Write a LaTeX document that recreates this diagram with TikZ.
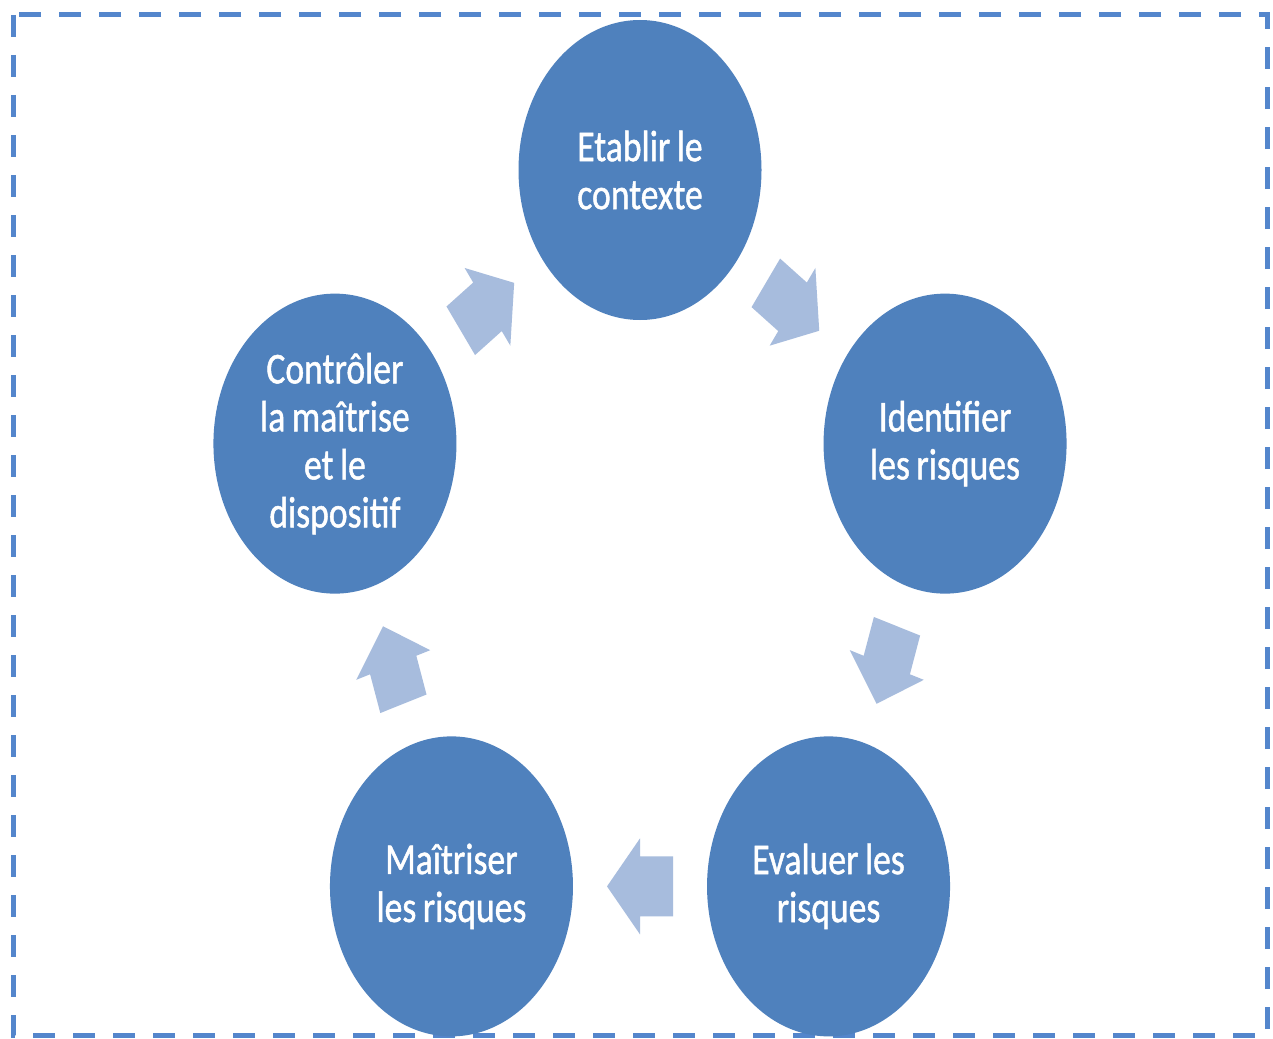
\documentclass[tikz,border=0pt]{standalone}
\usepackage{fontspec}
\setmainfont{Carlito}[FakeBold=1.2, WordSpace=0.8]
\usetikzlibrary{calc}
\definecolor{nodeblue}{RGB}{79,129,189}
\definecolor{arrowblue}{RGB}{167,188,221}
\definecolor{borderblue}{RGB}{84,134,204}
\begin{document}
\begin{tikzpicture}[x=1pt,y=1pt,
  stage/.style={circle, fill=nodeblue, minimum size=300pt, inner sep=0pt,
    text=white, align=center, font=\fontsize{44}{48}\selectfont},
  blockarrow/.pic={\fill[arrowblue] (-40.75,-30) -- (0,-30) -- (0,-48) -- (40.75,0)
     -- (0,48) -- (0,30) -- (-40.75,30) -- cycle;},
  frame/.style={draw=borderblue, line width=5pt, dash pattern=on 22pt off 18pt}]
\useasboundingbox (0,0) rectangle (1273,-1038);
\fill[white] (0,0) rectangle (1273,-1038);
\draw[frame] (13,-15) rectangle (1267,-1035);
\begin{scope}[shift={(640,-566)}, xscale=0.81, transform shape]
  \node[stage] (ctx) at (90:396) {Etablir le\\contexte};
  \node[stage] (ident) at (18:396) {Identifier\\les risques};
  \node[stage] (eval) at (-54:396) {Evaluer les\\risques};
  \node[stage] (mait) at (-126:396) {Maîtriser\\les risques};
  \node[stage] (ctrl) at (162:396) {Contrôler\\la maîtrise\\et le\\dispositif};
  \pic[rotate=-36] at ($(ctx)!0.5!(ident)$) {blockarrow};
  \pic[rotate=-108] at ($(ident)!0.5!(eval)$) {blockarrow};
  \pic[rotate=180] at ($(eval)!0.5!(mait)$) {blockarrow};
  \pic[rotate=108] at ($(mait)!0.5!(ctrl)$) {blockarrow};
  \pic[rotate=36] at ($(ctrl)!0.5!(ctx)$) {blockarrow};
\end{scope}
\end{tikzpicture}
\end{document}
